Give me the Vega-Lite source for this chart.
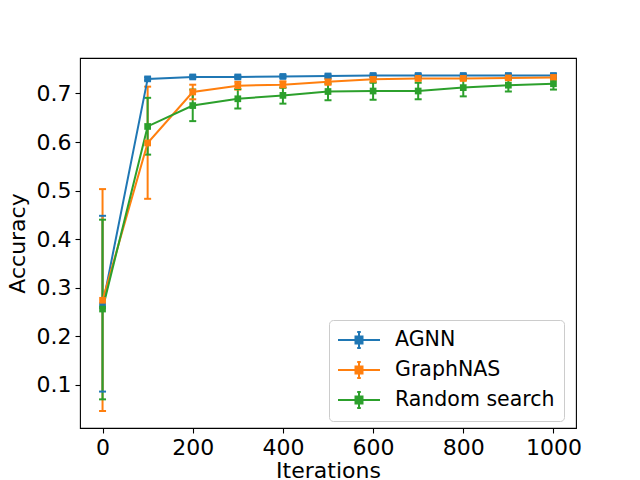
{
  "$schema": "https://vega.github.io/schema/vega-lite/v6.json",
  "width": 496,
  "height": 370,
  "autosize": {"type": "none"},
  "padding": {"left": 80, "top": 58, "right": 64, "bottom": 52},
  "config": {
    "font": "DejaVu Sans",
    "view": {"stroke": "#000000", "strokeWidth": 1.1},
    "axis": {
      "grid": false,
      "domain": false,
      "tickColor": "#000000",
      "tickWidth": 1.1,
      "tickSize": 5,
      "labelFontSize": 22,
      "labelColor": "#000000",
      "labelPadding": 4,
      "titleFontSize": 22,
      "titleFontWeight": "normal",
      "titleColor": "#000000"
    }
  },
  "data": {
    "values": [
      {"series": "AGNN", "iter": 0, "acc": 0.263, "lo": 0.086, "hi": 0.448},
      {"series": "AGNN", "iter": 100, "acc": 0.730, "lo": 0.727, "hi": 0.733},
      {"series": "AGNN", "iter": 200, "acc": 0.734, "lo": 0.731, "hi": 0.737},
      {"series": "AGNN", "iter": 300, "acc": 0.734, "lo": 0.731, "hi": 0.737},
      {"series": "AGNN", "iter": 400, "acc": 0.735, "lo": 0.732, "hi": 0.738},
      {"series": "AGNN", "iter": 500, "acc": 0.736, "lo": 0.733, "hi": 0.739},
      {"series": "AGNN", "iter": 600, "acc": 0.737, "lo": 0.734, "hi": 0.740},
      {"series": "AGNN", "iter": 700, "acc": 0.737, "lo": 0.734, "hi": 0.740},
      {"series": "AGNN", "iter": 800, "acc": 0.737, "lo": 0.734, "hi": 0.740},
      {"series": "AGNN", "iter": 900, "acc": 0.737, "lo": 0.734, "hi": 0.740},
      {"series": "AGNN", "iter": 1000, "acc": 0.737, "lo": 0.734, "hi": 0.740},
      {"series": "GraphNAS", "iter": 0, "acc": 0.274, "lo": 0.046, "hi": 0.503},
      {"series": "GraphNAS", "iter": 100, "acc": 0.598, "lo": 0.483, "hi": 0.714},
      {"series": "GraphNAS", "iter": 200, "acc": 0.703, "lo": 0.688, "hi": 0.718},
      {"series": "GraphNAS", "iter": 300, "acc": 0.716, "lo": 0.708, "hi": 0.724},
      {"series": "GraphNAS", "iter": 400, "acc": 0.718, "lo": 0.712, "hi": 0.725},
      {"series": "GraphNAS", "iter": 500, "acc": 0.724, "lo": 0.718, "hi": 0.730},
      {"series": "GraphNAS", "iter": 600, "acc": 0.729, "lo": 0.724, "hi": 0.734},
      {"series": "GraphNAS", "iter": 700, "acc": 0.731, "lo": 0.727, "hi": 0.735},
      {"series": "GraphNAS", "iter": 800, "acc": 0.731, "lo": 0.727, "hi": 0.735},
      {"series": "GraphNAS", "iter": 900, "acc": 0.732, "lo": 0.728, "hi": 0.736},
      {"series": "GraphNAS", "iter": 1000, "acc": 0.733, "lo": 0.729, "hi": 0.737},
      {"series": "Random search", "iter": 0, "acc": 0.256, "lo": 0.070, "hi": 0.440},
      {"series": "Random search", "iter": 100, "acc": 0.632, "lo": 0.574, "hi": 0.691},
      {"series": "Random search", "iter": 200, "acc": 0.675, "lo": 0.643, "hi": 0.708},
      {"series": "Random search", "iter": 300, "acc": 0.689, "lo": 0.669, "hi": 0.709},
      {"series": "Random search", "iter": 400, "acc": 0.696, "lo": 0.679, "hi": 0.712},
      {"series": "Random search", "iter": 500, "acc": 0.704, "lo": 0.686, "hi": 0.721},
      {"series": "Random search", "iter": 600, "acc": 0.705, "lo": 0.687, "hi": 0.722},
      {"series": "Random search", "iter": 700, "acc": 0.705, "lo": 0.688, "hi": 0.722},
      {"series": "Random search", "iter": 800, "acc": 0.712, "lo": 0.694, "hi": 0.729},
      {"series": "Random search", "iter": 900, "acc": 0.717, "lo": 0.704, "hi": 0.730},
      {"series": "Random search", "iter": 1000, "acc": 0.720, "lo": 0.708, "hi": 0.731}
    ]
  },
  "encoding": {
    "x": {
      "field": "iter",
      "type": "quantitative",
      "title": "Iterations",
      "scale": {"domain": [-50, 1050], "nice": false, "zero": false},
      "axis": {"values": [0, 200, 400, 600, 800, 1000], "format": "d", "titlePadding": 2}
    },
    "color": {
      "field": "series",
      "type": "nominal",
      "scale": {
        "domain": ["AGNN", "GraphNAS", "Random search"],
        "range": ["#1f77b4", "#ff7f0e", "#2ca02c"]
      },
      "legend": {
        "title": null,
        "orient": "none",
        "legendX": 249,
        "legendY": 262,
        "fillColor": "#ffffff",
        "strokeColor": "#cccccc",
        "cornerRadius": 4,
        "padding": 9,
        "rowPadding": 6,
        "labelFontSize": 20.5,
        "labelLimit": 0,
        "labelColor": "#000000",
        "symbolType": "M-2.1,0H2.1M0,-0.8V0.8M-0.18,-0.8H0.18M-0.18,0.8H0.18M-0.35,-0.35H0.35V0.35H-0.35Z",
        "symbolSize": 400,
        "symbolStrokeWidth": 2,
        "symbolOffset": 10,
        "labelOffset": 25,
        "encode": {
          "symbols": {
            "update": {
              "fill": {"scale": "color", "field": "value"},
              "stroke": {"scale": "color", "field": "value"},
              "opacity": {"value": 1}
            }
          }
        }
      }
    }
  },
  "layer": [
    {
      "mark": {"type": "rule", "strokeWidth": 2},
      "encoding": {
        "y": {"field": "lo", "type": "quantitative"},
        "y2": {"field": "hi"}
      }
    },
    {
      "mark": {"type": "tick", "orient": "horizontal", "size": 7, "thickness": 2, "opacity": 1},
      "encoding": {
        "y": {"field": "lo", "type": "quantitative"}
      }
    },
    {
      "mark": {"type": "tick", "orient": "horizontal", "size": 7, "thickness": 2, "opacity": 1},
      "encoding": {
        "y": {"field": "hi", "type": "quantitative"}
      }
    },
    {
      "mark": {"type": "line", "strokeWidth": 2},
      "encoding": {
        "y": {"field": "acc", "type": "quantitative"}
      }
    },
    {
      "mark": {"type": "point", "shape": "square", "filled": true, "size": 45, "opacity": 1},
      "encoding": {
        "y": {
          "field": "acc",
          "type": "quantitative",
          "title": "Accuracy",
          "scale": {"domain": [0.011, 0.773], "nice": false, "zero": false},
          "axis": {"values": [0.1, 0.2, 0.3, 0.4, 0.5, 0.6, 0.7], "titlePadding": 7}
        }
      }
    }
  ]
}
